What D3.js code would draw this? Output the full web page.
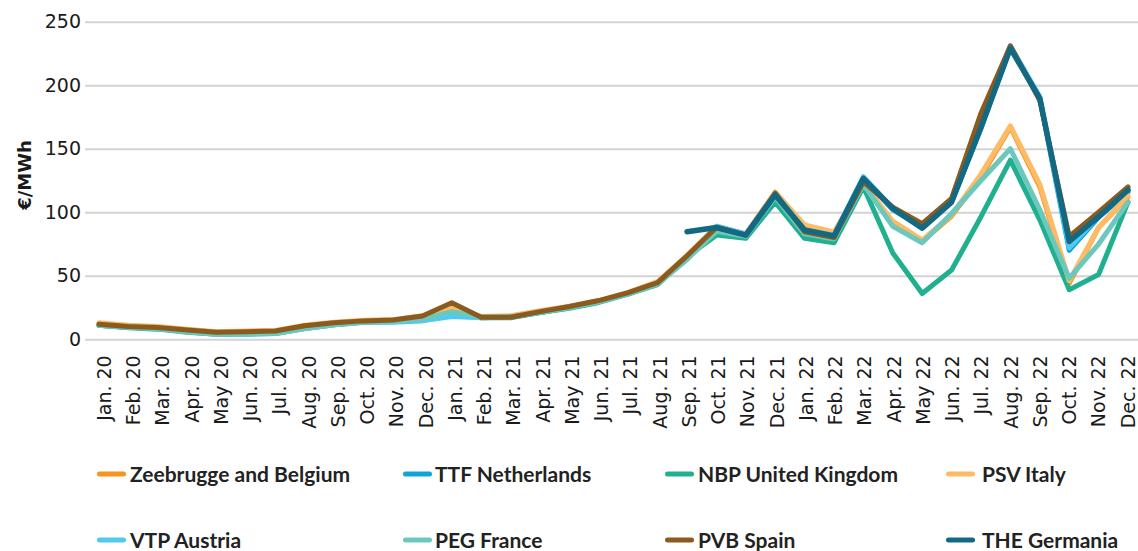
<!DOCTYPE html>
<html>
<head>
<meta charset="utf-8">
<script src="https://cdn.jsdelivr.net/npm/d3@7"></script>
<style>
  html, body { margin: 0; padding: 0; background: #fff; }
  svg { display: block; }
</style>
</head>
<body>
<div id="chart"></div>
<script>
// Monthly gas hub prices, €/MWh
const months = [
  "Jan. 20", "Feb. 20", "Mar. 20", "Apr. 20", "May 20", "Jun. 20", "Jul. 20", "Aug. 20", "Sep. 20", "Oct. 20", "Nov. 20", "Dec. 20",
  "Jan. 21", "Feb. 21", "Mar. 21", "Apr. 21", "May 21", "Jun. 21", "Jul. 21", "Aug. 21", "Sep. 21", "Oct. 21", "Nov. 21", "Dec. 21",
  "Jan. 22", "Feb. 22", "Mar. 22", "Apr. 22", "May 22", "Jun. 22", "Jul. 22", "Aug. 22", "Sep. 22", "Oct. 22", "Nov. 22", "Dec. 22"
];

const yTicks = [0, 50, 100, 150, 200, 250];

const zeebrugge = [12.5, 10.5, 9.5, 7.5, 5.5, 6, 6.5, 10.5, 13, 14.5, 15, 18, 24, 17.5, 18, 22, 25.5, 30, 36.5, 44.5, 64, 86, 82, 113, 85, 80, 122, 91, 77, 97, 128, 167, 120, 44, 88, 112];
const ttf = [11, 9.5, 8.7, 6.8, 5, 5.5, 6, 9.8, 12.5, 14, 14, 16.5, 23, 17, 17.5, 21, 25, 29.5, 36, 44, 63, 88, 81, 114, 84, 80, 127, 102, 88, 108, 166, 230, 190, 70, 96, 116];
const nbp = [11, 9, 8, 5.5, 4, 4.2, 4.5, 8.5, 11.5, 13.5, 14, 16, 21, 17, 17, 21, 24.5, 29, 35.5, 43, 65, 82, 79.5, 108, 79.5, 76, 120, 68, 36, 54.5, 96.5, 141, 94, 39, 51, 108];
const psv = [13, 11, 10, 8, 6, 6.5, 7, 11, 13.5, 15, 15.5, 18.5, 25, 18, 18.5, 22.5, 26, 30.5, 37, 45.5, 66, 89, 83, 116, 90, 84.5, 123, 93, 78, 98, 130, 168, 122, 46, 88, 113];
const vtp = [11, 9.5, 8.5, 6, 4, 4, 4.5, 8.5, 11.5, 13.5, 13.5, 14.5, 18, 17, 17.5, 21, 25, 29.5, 36, 44, 64, 89, 83, 115, 86, 82, 128, 103, 90, 109, 168, 231, 191, 72, 97, 118];
const peg = [11, 9.5, 8.5, 6, 4, 4.2, 4.5, 8.5, 11.5, 13.5, 14, 16, 21.8, 17.5, 17.5, 21.5, 25, 29.5, 36, 43.5, 63, 85, 81, 112, 83, 79, 122, 89, 76, 99, 125, 150, 102, 48, 75, 108];
const pvb = [11.8, 10, 9.2, 7.4, 5.5, 6, 6.5, 10.7, 13, 14.5, 15.2, 18.3, 28.8, 17.3, 17.3, 21.8, 25.8, 30.5, 36.7, 44.6, 65.7, 88, 82, 115, 84.7, 80, 124, 104, 91, 111, 178, 231, 188, 81, 100, 120];
const the = [null, null, null, null, null, null, null, null, null, null, null, null,
  null, null, null, null, null, null, null, null, 84.7, 88, 82, 113.6, 86, 81.4, 126.7, 103, 87.4, 108, 167, 229, 189.7, 77, 96.5, 117.5];

const seriesNames = ["Zeebrugge and Belgium", "TTF Netherlands", "NBP United Kingdom", "PSV Italy",
                     "VTP Austria", "PEG France", "PVB Spain", "THE Germania"];
const seriesColors = ["#f7941d", "#0ea5d8", "#21b08f", "#fdbb66", "#52c9f0", "#6cc7bc", "#8b5a1f", "#136882"];
const seriesValues = [zeebrugge, ttf, nbp, psv, vtp, peg, pvb, the];

const width = 1138, height = 551;
const axisFont = "'DejaVu Sans', sans-serif";
const series = seriesNames.map((name, i) => ({ name, color: seriesColors[i], values: seriesValues[i] }));

const svg = d3.select("#chart").append("svg")
  .attr("width", width)
  .attr("height", height);

const x = d3.scalePoint().domain(months).range([99, 1128]);
// category labels sit a touch right of the points on the left side
const xLabel = d3.scalePoint().domain(months).range([103.5, 1127]);
const y = d3.scaleLinear().domain([0, 250]).range([339.3, 21.7]);

// gridlines + y labels
const yAxis = svg.append("g")
  .attr("transform", "translate(85,0)")
  .call(d3.axisLeft(y).tickValues(yTicks).tickSize(-(width - 85)).tickPadding(4));
yAxis.select(".domain").remove();
yAxis.selectAll(".tick line").attr("stroke", "#d3d3d3").attr("stroke-width", 2);
yAxis.selectAll(".tick text")
  .attr("fill", "#1a1a1a")
  .style("font-family", axisFont)
  .style("font-size", "19px");

// y title
svg.append("text")
  .attr("transform", "translate(31,175) rotate(-90)")
  .attr("text-anchor", "middle")
  .style("font-family", axisFont)
  .style("font-size", "18px")
  .style("font-weight", "bold")
  .attr("fill", "#1a1a1a")
  .text("€/MWh");

// x labels
const xAxis = svg.append("g")
  .attr("transform", "translate(0,339.3)")
  .call(d3.axisBottom(xLabel).tickSize(0));
xAxis.select(".domain").remove();
xAxis.selectAll(".tick text")
  .attr("fill", "#1a1a1a")
  .style("font-family", axisFont)
  .style("font-size", "19px")
  .attr("text-anchor", "end")
  .attr("dy", null)
  .attr("y", 0)
  .attr("transform", "translate(7,16) rotate(-90)");

// lines
const line = d3.line()
  .defined(d => d != null)
  .x((d, i) => x(months[i]))
  .y(d => y(d));

svg.append("g")
  .selectAll("path")
  .data(series)
  .join("path")
    .attr("fill", "none")
    .attr("stroke", d => d.color)
    .attr("stroke-width", d => d.name === "THE Germania" ? 5.5 : 5)
    .attr("stroke-linejoin", "round")
    .attr("stroke-linecap", "round")
    .attr("d", d => line(d.values));

// legend
const swatchX = [97, 403, 665, 946];
const textX = [130, 435, 698, 982];
const rowY = [474, 540];

const legend = svg.append("g")
  .selectAll("g")
  .data(series)
  .join("g")
    .attr("transform", (d, i) => `translate(0,${rowY[Math.floor(i / 4)]})`);

legend.append("line")
  .attr("x1", (d, i) => swatchX[i % 4] + 2.5)
  .attr("x2", (d, i) => swatchX[i % 4] + 26.5)
  .attr("stroke", d => d.color)
  .attr("stroke-width", 5)
  .attr("stroke-linecap", "round");

legend.append("text")
  .attr("x", (d, i) => textX[i % 4])
  .attr("y", 7.5)
  .style("font-family", "Lato, sans-serif")
  .style("font-weight", "bold")
  .style("font-size", "21px")
  .attr("fill", "#222")
  .text(d => d.name);
</script>
</body>
</html>
